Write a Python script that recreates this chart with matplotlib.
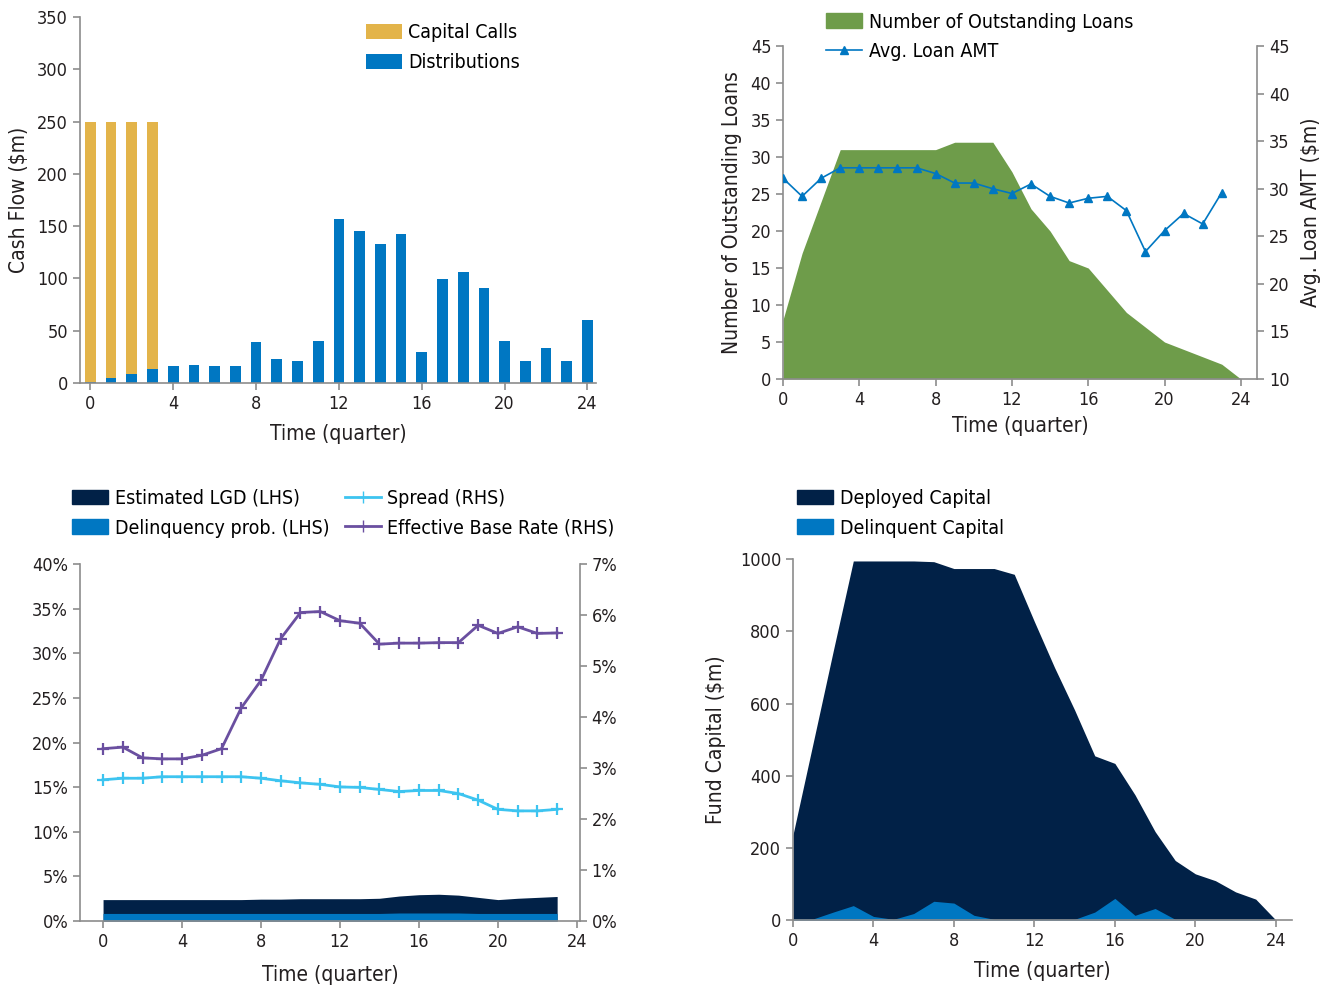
import numpy as np
import matplotlib.pyplot as plt
from matplotlib.patches import Patch
from matplotlib.lines import Line2D
from matplotlib.ticker import FuncFormatter

plt.rcParams['font.family'] = ['Liberation Sans Narrow', 'DejaVu Sans']
plt.rcParams['font.stretch'] = 'condensed'

GOLD = '#E3B44A'
BLUE = '#0077C2'
GREEN = '#6E9C4A'
NAVY = '#012147'
CYAN = '#3DC4F0'
PURPLE = '#6A4FA0'
SPINE = '#8C8C8C'
TEXT = '#231F20'

# cash flows per quarter ($m)
quarters = np.arange(25)
capital_calls = [250, 250, 250, 250, 0, 0, 0, 0, 0, 0, 0, 0, 0,
                 0, 0, 0, 0, 0, 0, 0, 0, 0, 0, 0, 0]
distributions = [1.3, 5, 9, 13, 16, 17.5, 16, 16, 39, 23, 21, 40, 157,
                 145, 133, 142, 30, 99, 106, 91, 40, 21, 33, 21, 60]

# loan book
outstanding_loans = [8, 17, 24, 31, 31, 31, 31, 31, 31, 32, 32, 32, 28,
                     23, 20, 16, 15, 12, 9, 7, 5, 4, 3, 2, 0]
avg_loan_amt = [31.1, 29.2, 31.1, 32.2, 32.2, 32.2, 32.2, 32.2, 31.6, 30.6,
                30.6, 30.0, 29.5, 30.5, 29.2, 28.5, 29.0, 29.2, 27.7, 23.4,
                25.6, 27.4, 26.3, 29.6]

# rates (%)
rate_quarters = np.arange(24)
est_lgd = [2.4, 2.4, 2.4, 2.4, 2.4, 2.4, 2.4, 2.4, 2.45, 2.45, 2.5, 2.5,
           2.5, 2.5, 2.55, 2.8, 2.95, 3.0, 2.9, 2.65, 2.4, 2.55, 2.65, 2.75]
delinq_prob = [0.85, 0.85, 0.85, 0.85, 0.85, 0.85, 0.85, 0.85, 0.85, 0.85,
               0.85, 0.85, 0.85, 0.85, 0.85, 0.9, 0.9, 0.9, 0.9, 0.85, 0.85,
               0.85, 0.85, 0.85]
spread = [2.77, 2.80, 2.80, 2.83, 2.83, 2.83, 2.83, 2.83, 2.80, 2.75, 2.71,
          2.68, 2.63, 2.62, 2.58, 2.54, 2.56, 2.56, 2.50, 2.37, 2.19, 2.16,
          2.16, 2.19]
base_rate = [3.38, 3.41, 3.20, 3.18, 3.18, 3.25, 3.38, 4.18, 4.72, 5.54,
             6.05, 6.07, 5.89, 5.84, 5.43, 5.45, 5.45, 5.46, 5.46, 5.80,
             5.64, 5.77, 5.64, 5.65]

# fund capital ($m)
deployed = [236, 490, 745, 995, 995, 995, 995, 993, 974, 974, 974, 958, 827,
            700, 582, 455, 434, 347, 245, 165, 128, 109, 78, 58, 0]
delinquent = [3, 3, 22, 40, 10, 2, 18, 52, 47, 13, 2, 2, 2, 2, 2, 22, 60,
              13, 32, 2, 2, 2, 2, 2, 0]

TICK_FS = 13
LABEL_FS = 15
LEG_FS = 14
quarter_ticks = [0, 4, 8, 12, 16, 20, 24]
leg_kw = dict(frameon=False, fontsize=LEG_FS, handlelength=1.85,
              handleheight=0.8, handletextpad=0.35, labelspacing=0.55)


def style_axes(ax, right=False):
    for side in ['top', 'right']:
        ax.spines[side].set_visible(False)
    if right:
        ax.spines['right'].set_visible(True)
    for side in ['left', 'bottom', 'right']:
        ax.spines[side].set_color(SPINE)
        ax.spines[side].set_linewidth(1.2)
    ax.tick_params(colors=SPINE, labelcolor=TEXT, labelsize=TICK_FS,
                   length=5, width=1.2)


fig = plt.figure(figsize=(13.26, 9.86), dpi=100)

# cash flow bars
ax1 = fig.add_axes([0.0603, 0.6116, 0.389, 0.3712])
ax1.bar(quarters, capital_calls, width=0.52, color=GOLD, label='Capital Calls')
ax1.bar(quarters, distributions, width=0.52, color=BLUE, label='Distributions')
ax1.set_xlim(-0.5, 24.4)
ax1.set_ylim(0, 350)
ax1.set_xticks(quarter_ticks)
ax1.set_yticks(range(0, 351, 50))
style_axes(ax1)
ax1.set_xlabel('Time (quarter)', fontsize=LABEL_FS, color=TEXT, labelpad=8)
ax1.set_ylabel('Cash Flow ($m)', fontsize=LABEL_FS, color=TEXT, labelpad=6)
ax1.legend(loc='upper left', bbox_to_anchor=(0.52, 1.03), **leg_kw)

# outstanding loans and average loan size
ax2 = fig.add_axes([0.5905, 0.6156, 0.3575, 0.3377])
ax2.fill_between(quarters, outstanding_loans, color=GREEN, linewidth=0)
ax2.set_xlim(0, 24.85)
ax2.set_ylim(0, 45)
ax2.set_xticks(quarter_ticks)
ax2.set_yticks(range(0, 46, 5))
style_axes(ax2)
ax2.set_xlabel('Time (quarter)', fontsize=LABEL_FS, color=TEXT, labelpad=5)
ax2.set_ylabel('Number of Outstanding Loans', fontsize=LABEL_FS, color=TEXT,
               labelpad=6)
ax2r = ax2.twinx()
ax2r.plot(rate_quarters, avg_loan_amt, color=BLUE, linewidth=1.2,
          marker='^', markersize=6)
ax2r.set_ylim(10, 45)
ax2r.set_yticks(range(10, 46, 5))
style_axes(ax2r, right=True)
ax2r.spines['left'].set_visible(False)
ax2r.spines['bottom'].set_visible(False)
ax2r.set_ylabel('Avg. Loan AMT ($m)', fontsize=LABEL_FS, color=TEXT,
                labelpad=8)
fig.legend(handles=[Patch(color=GREEN, label='Number of Outstanding Loans'),
                    Line2D([], [], color=BLUE, marker='^', markersize=6,
                           linewidth=1.2, label='Avg. Loan AMT')],
           loc='upper left', bbox_to_anchor=(0.61, 1.005), **leg_kw)

# LGD, delinquency, spread and base rate
ax3 = fig.add_axes([0.0603, 0.0659, 0.377, 0.362])
ax3.fill_between(rate_quarters, est_lgd, color=NAVY, linewidth=0)
ax3.fill_between(rate_quarters, delinq_prob, color=BLUE, linewidth=0)
ax3.set_xlim(-1.17, 24.15)
ax3.set_ylim(0, 40)
ax3.set_xticks(quarter_ticks)
ax3.set_yticks(range(0, 41, 5))
ax3.yaxis.set_major_formatter(FuncFormatter(lambda v, p: f'{v:.0f}%'))
style_axes(ax3, right=False)
ax3.set_xlabel('Time (quarter)', fontsize=LABEL_FS, color=TEXT, labelpad=10)
ax3r = ax3.twinx()
ax3r.plot(rate_quarters, spread, color=CYAN, linewidth=2, marker='+',
          markersize=9, markeredgewidth=1.6)
ax3r.plot(rate_quarters, base_rate, color=PURPLE, linewidth=2, marker='+',
          markersize=9, markeredgewidth=1.6)
ax3r.set_ylim(0, 7)
ax3r.set_yticks(range(0, 8))
ax3r.yaxis.set_major_formatter(FuncFormatter(lambda v, p: f'{v:.0f}%'))
style_axes(ax3r, right=True)
ax3r.spines['left'].set_visible(False)
ax3r.spines['bottom'].set_visible(False)
fig.legend(handles=[Patch(color=NAVY, label='Estimated LGD (LHS)'),
                    Patch(color=BLUE, label='Delinquency prob. (LHS)'),
                    Line2D([], [], color=CYAN, marker='+', markersize=9,
                           linewidth=2, label='Spread (RHS)'),
                    Line2D([], [], color=PURPLE, marker='+', markersize=9,
                           linewidth=2, label='Effective Base Rate (RHS)')],
           loc='upper left', bbox_to_anchor=(0.041, 0.522), ncol=2,
           columnspacing=0.8, **leg_kw)

# deployed vs delinquent capital
ax4 = fig.add_axes([0.598, 0.0669, 0.3763, 0.366])
ax4.fill_between(quarters, deployed, color=NAVY, linewidth=0)
ax4.fill_between(quarters, delinquent, color=BLUE, linewidth=0)
ax4.set_xlim(0, 24.8)
ax4.set_ylim(0, 1000)
ax4.set_xticks(quarter_ticks)
ax4.set_yticks(range(0, 1001, 200))
style_axes(ax4)
ax4.set_xlabel('Time (quarter)', fontsize=LABEL_FS, color=TEXT, labelpad=8)
ax4.set_ylabel('Fund Capital ($m)', fontsize=LABEL_FS, color=TEXT,
               labelpad=10)
fig.legend(handles=[Patch(color=NAVY, label='Deployed Capital'),
                    Patch(color=BLUE, label='Delinquent Capital')],
           loc='upper left', bbox_to_anchor=(0.588, 0.522), **leg_kw)

fig.savefig('out.png', dpi=100)
